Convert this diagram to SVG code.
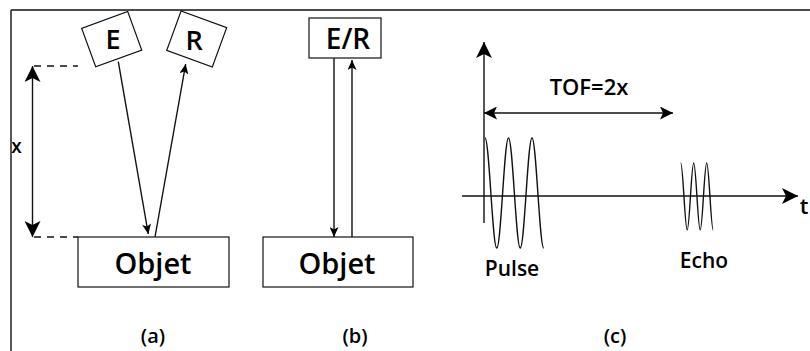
<svg xmlns="http://www.w3.org/2000/svg" width="810" height="351" viewBox="0 0 810 351">
<style>
.ln{fill:none;stroke:#111;stroke-width:1.4}
.bx{fill:#fff;stroke:#111;stroke-width:1.2}
.tx{font-family:"Open Sans","Noto Sans","Liberation Sans",sans-serif;font-weight:600;fill:#000;text-anchor:middle}
.dash{fill:none;stroke:#111;stroke-width:1.4;stroke-dasharray:7 6}
</style>
<defs>
<marker id="big" viewBox="0 0 16 16" refX="16" refY="8" markerWidth="16" markerHeight="16" markerUnits="userSpaceOnUse" orient="auto-start-reverse">
<path d="M0,0 L16,8 L0,16 L4,8 z" fill="#000"/>
</marker>
<marker id="mid" viewBox="0 0 13 13" refX="13" refY="6.5" markerWidth="13" markerHeight="13" markerUnits="userSpaceOnUse" orient="auto-start-reverse">
<path d="M0,0 L13,6.5 L0,13 L3,6.5 z" fill="#000"/>
</marker>
<marker id="small" viewBox="0 0 10 9" refX="10" refY="4.5" markerWidth="10" markerHeight="9" markerUnits="userSpaceOnUse" orient="auto">
<path d="M0,0 L10,4.5 L0,9 L2.5,4.5 z" fill="#000"/>
</marker>
</defs>

<g id="frame">
<line class="ln" x1="11" y1="10" x2="810" y2="10"/>
<line class="ln" x1="11" y1="10" x2="11" y2="351"/>
</g>

<g id="connectors">
<line class="ln" x1="118.3" y1="61.7" x2="148.3" y2="234" marker-end="url(#small)"/>
<line class="ln" x1="155" y1="237" x2="185.7" y2="64" marker-end="url(#small)"/>
<line class="ln" x1="334" y1="58" x2="334" y2="237" marker-end="url(#small)"/>
<line class="ln" x1="352" y1="237" x2="352" y2="60" marker-end="url(#small)"/>
<line class="ln" x1="32.5" y1="66" x2="32.5" y2="237" marker-start="url(#big)" marker-end="url(#big)"/>
<line class="dash" x1="34" y1="66" x2="78" y2="66"/>
<line class="dash" x1="34" y1="237" x2="78" y2="237"/>
</g>

<g id="node-E">
<rect class="bx" x="87.2" y="18.7" width="49" height="41" transform="rotate(-20 111.7 39.2)"/>
<text class="tx" x="113" y="49" font-size="27">E</text>
</g>
<g id="node-R">
<rect class="bx" x="172.45" y="18" width="48.5" height="42" transform="rotate(20 196.7 39)"/>
<text class="tx" x="194" y="49.5" font-size="27">R</text>
</g>
<g id="node-objet-a">
<rect class="bx" x="78" y="237" width="151" height="50"/>
<text class="tx" x="153" y="273.5" font-size="29">Objet</text>
</g>
<g id="label-x">
<text class="tx" x="16.5" y="153" font-size="19" font-weight="700">x</text>
</g>

<g id="node-ER">
<rect class="bx" x="309" y="18" width="72" height="40"/>
<text class="tx" x="348" y="48.5" font-size="28">E/R</text>
</g>
<g id="node-objet-b">
<rect class="bx" x="263" y="237" width="150" height="50"/>
<text class="tx" x="337" y="273.5" font-size="29">Objet</text>
</g>

<g id="chart">
<line class="ln" x1="484" y1="223" x2="484" y2="42" marker-end="url(#big)"/>
<line class="ln" x1="462" y1="196" x2="798" y2="196" marker-end="url(#big)"/>
<line class="ln" x1="484" y1="113" x2="673" y2="113" marker-start="url(#mid)" marker-end="url(#mid)"/>
<path class="ln" stroke-width="1.3" d="M485,138 C489.28,138 492.47,248 496.75,248 S504.22,138 508.5,138 S515.97,248 520.25,248 S527.72,138 532,138 S539.47,248 543.75,248"/>
<path class="ln" stroke-width="1.3" d="M680.7,163 C683.07,163 684.83,230 687.2,230 S691.33,163 693.7,163 S697.83,230 700.2,230 S704.33,163 706.7,163 S710.83,230 713.2,230"/>
<text class="tx" x="589" y="95" font-size="22">TOF=2x</text>
<text class="tx" x="512" y="276" font-size="21">Pulse</text>
<text class="tx" x="704" y="268" font-size="21">Echo</text>
<text class="tx" x="804" y="214" font-size="22" text-anchor="start">t</text>
</g>

<g id="captions">
<text class="tx" x="153" y="343" font-size="20">(a)</text>
<text class="tx" x="355" y="343" font-size="20">(b)</text>
<text class="tx" x="615" y="343" font-size="20">(c)</text>
</g>
</svg>
